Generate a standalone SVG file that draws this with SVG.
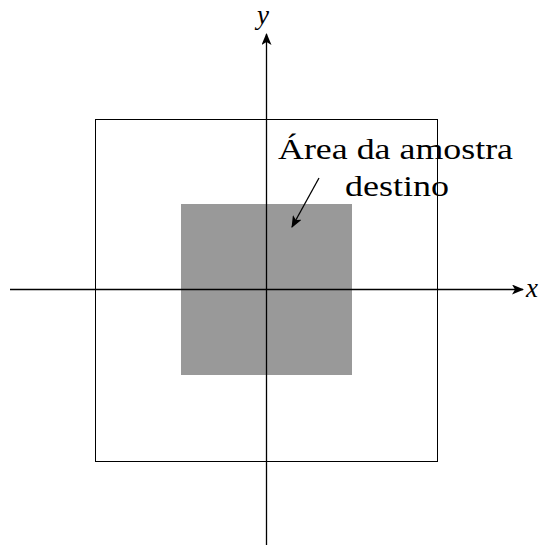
<svg xmlns="http://www.w3.org/2000/svg" width="539" height="545" viewBox="0 0 539 545">
<style>
.ax{stroke:#000;stroke-width:1.3;fill:none}
.lbl{font-family:"Liberation Serif",serif;font-size:29px;fill:#000}
.var{font-family:"Liberation Serif",serif;font-style:italic;font-size:27px;fill:#000}
</style>
<defs>
<marker id="ah" viewBox="0 0 12 10" refX="11" refY="5" markerWidth="12" markerHeight="10" markerUnits="userSpaceOnUse" orient="auto">
<path d="M0,0 L12,5 L0,10 L3,5 Z" fill="#000"/>
</marker>
</defs>
<rect width="539" height="545" fill="#fff"/>
<g id="outer"><rect x="95.5" y="119.5" width="342" height="342" fill="none" stroke="#000" stroke-width="1"/></g>
<g id="target"><rect x="181" y="204" width="171" height="171" fill="#999"/></g>
<g id="connectors">
<line class="ax" x1="266.5" y1="545" x2="266.5" y2="34" marker-end="url(#ah)"/>
<line class="ax" x1="10" y1="289.5" x2="523" y2="289.5" marker-end="url(#ah)"/>
<line class="ax" x1="319" y1="178" x2="292" y2="227" stroke-width="1.1" marker-end="url(#ah)"/>
</g>
<g id="labels">
<text class="var" x="257" y="24">y</text>
<text class="var" x="526" y="297">x</text>
<text class="lbl" x="278" y="159" textLength="235" lengthAdjust="spacingAndGlyphs">Área da amostra</text>
<text class="lbl" x="345" y="196" textLength="104" lengthAdjust="spacingAndGlyphs">destino</text>
</g>
</svg>
